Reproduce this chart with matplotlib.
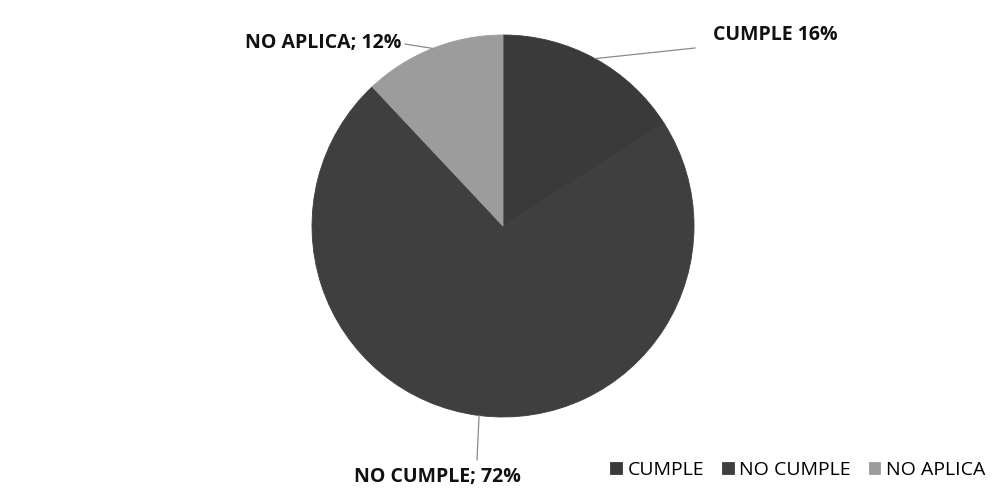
import numpy as np
import matplotlib.pyplot as plt

# Datos del gráfico
categorias = ['CUMPLE', 'NO CUMPLE', 'NO APLICA']
porcentajes = [16, 72, 12]
etiquetas = ['CUMPLE 16%', 'NO CUMPLE; 72%', 'NO APLICA; 12%']
colores = ['#3a3a3a', '#3f3f3f', '#9c9c9c']

fig = plt.figure(figsize=(9.93, 5.04), dpi=100)
ax = fig.add_axes([0, 0, 1, 1])

cx, cy, r = 503, 278, 191
wedges, _ = ax.pie(porcentajes, colors=colores, startangle=90, counterclock=False,
                   center=(cx, cy), radius=r, frame=True)
for w, c in zip(wedges, colores):
    w.set_edgecolor(c)
    w.set_linewidth(0.6)
ax.set_xlim(0, 993)
ax.set_ylim(0, 504)
ax.set_aspect('equal')
ax.axis('off')

# posiciones de las etiquetas (x, y del texto, alineación)
pos_texto = [(713, 469, 'left'), (437, 27, 'center'), (401, 461, 'right')]
codos = [(695, 456), (477, 44), (405, 460)]

for w, lab, (tx, ty, ha), (kx, ky) in zip(wedges, etiquetas, pos_texto, codos):
    ang = np.deg2rad((w.theta1 + w.theta2) / 2)
    px, py = cx + r * np.cos(ang), cy + r * np.sin(ang)
    ax.plot([px, kx], [py, ky], color='#8a8a8a', lw=0.9)
    ax.text(tx, ty, lab, ha=ha, va='center', fontsize=14, fontweight='bold',
            family=['Open Sans', 'DejaVu Sans'], color='#111111')

ax.legend(wedges, categorias, loc='lower right', bbox_to_anchor=(1.01, 0.015), ncol=3,
          frameon=False, handlelength=0.6, handleheight=0.6,
          handletextpad=0.3, columnspacing=0.9,
          prop={'family': ['Open Sans', 'DejaVu Sans'], 'size': 14})

fig.savefig('out.png', dpi=100)
